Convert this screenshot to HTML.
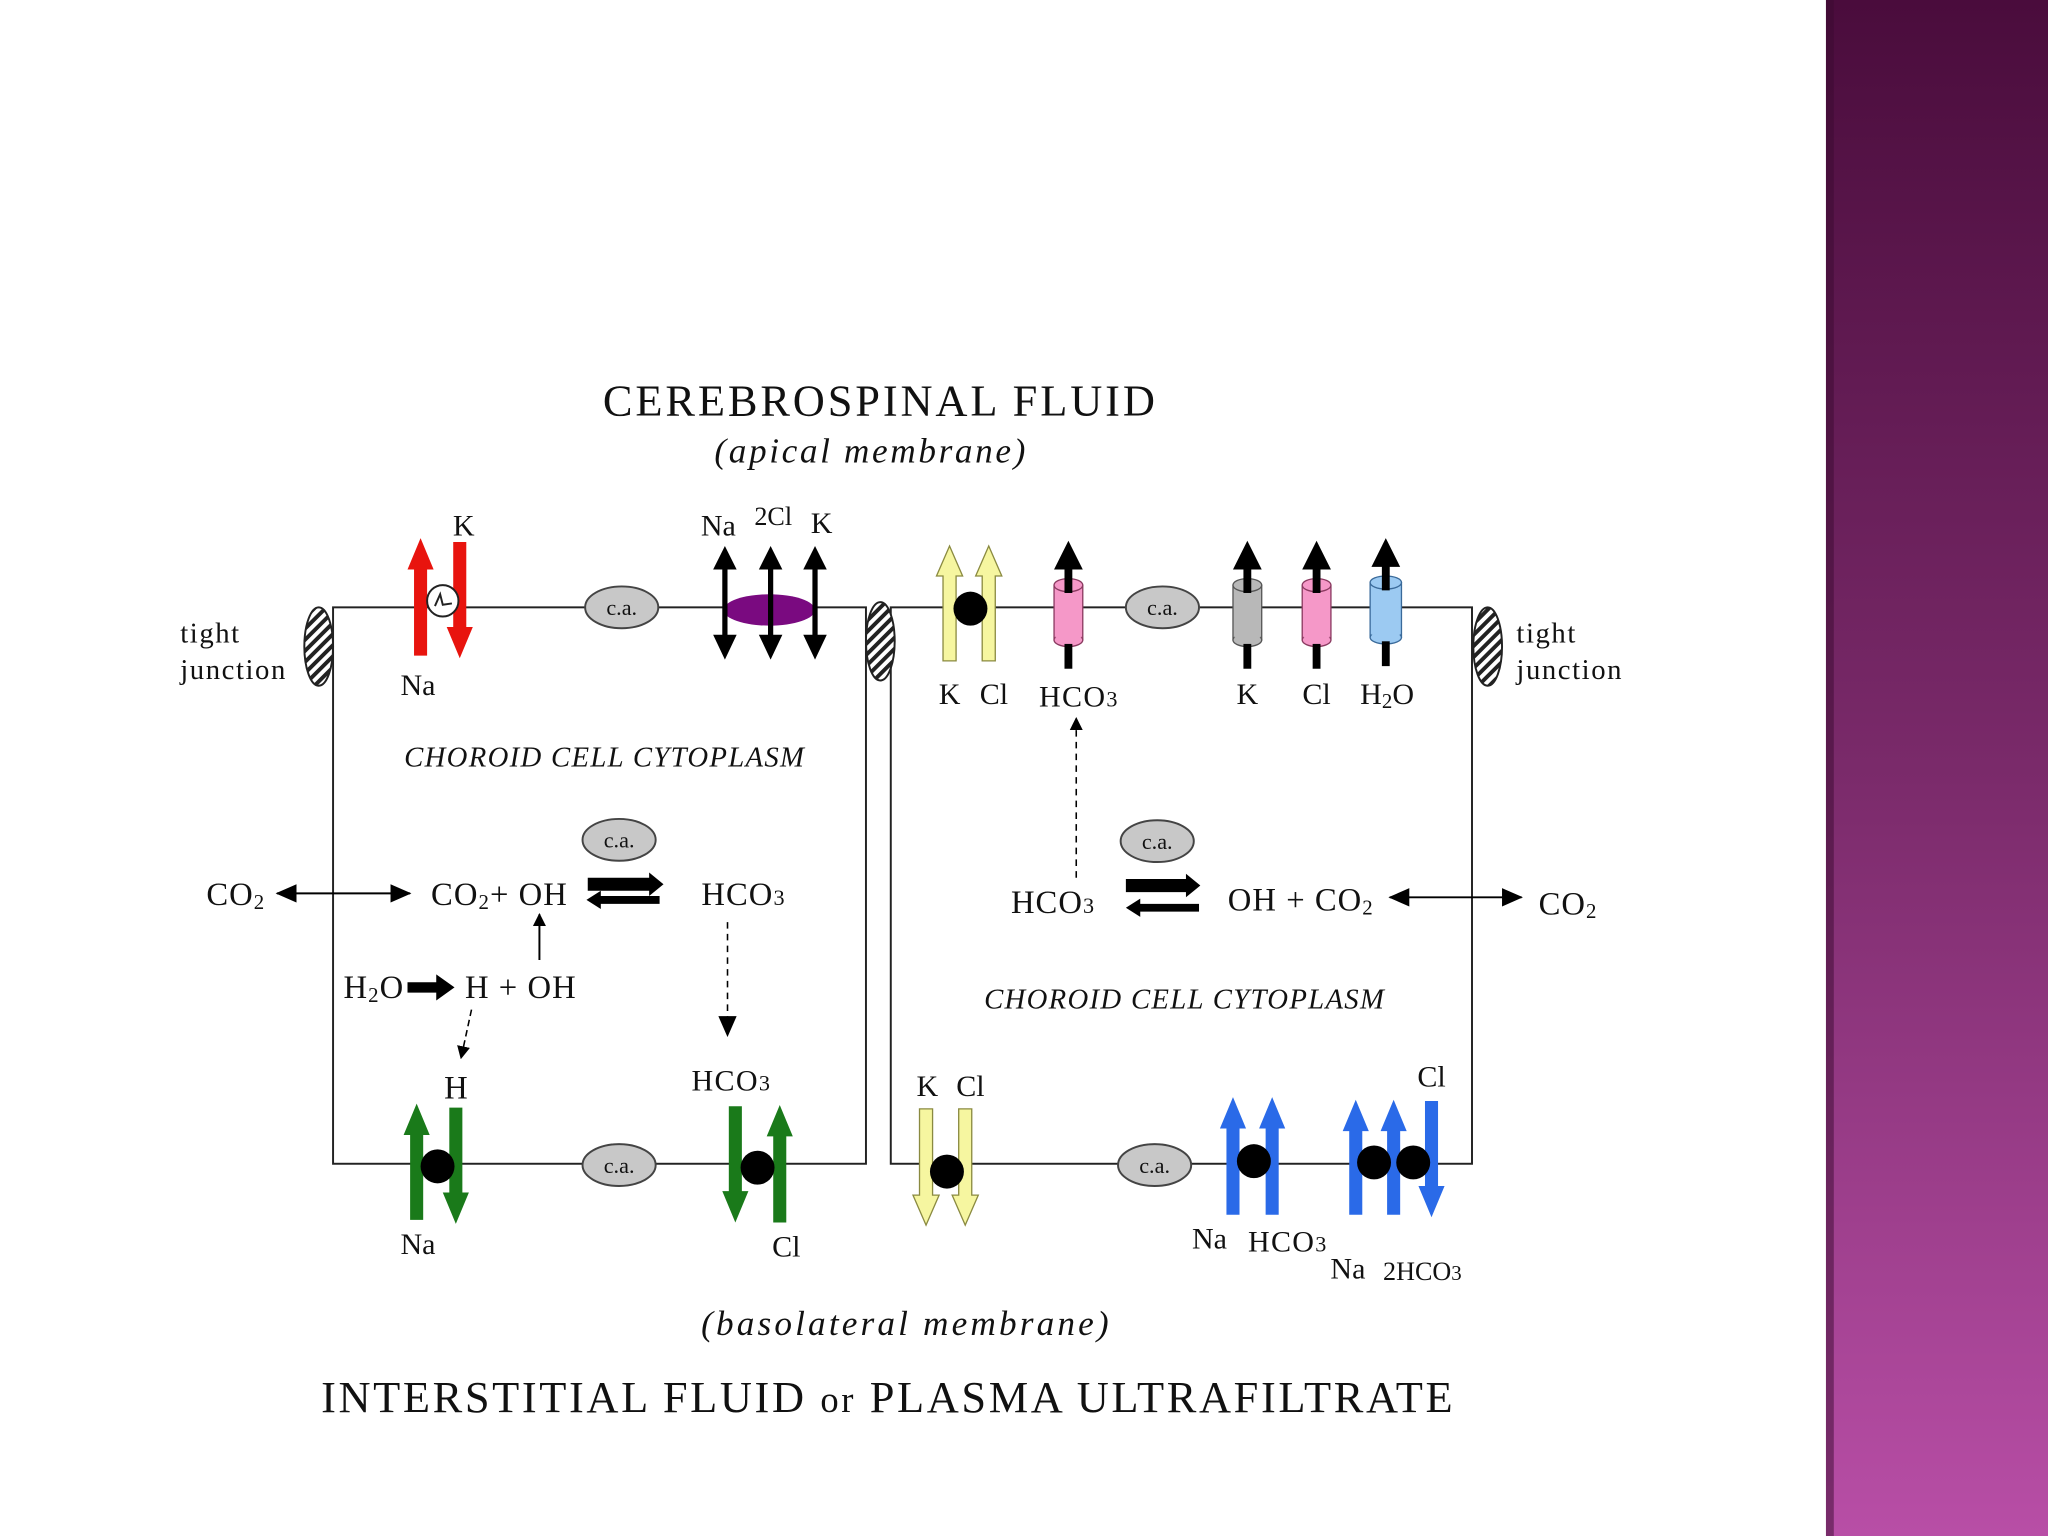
<!DOCTYPE html>
<html><head><meta charset="utf-8"><style>
html,body{margin:0;padding:0;background:#fff;}
svg{display:block}
text{font-family:"Liberation Serif",serif;fill:#111}
</style></head><body>
<svg width="2048" height="1536" viewBox="0 0 1568 1176" xmlns="http://www.w3.org/2000/svg">
<defs>
<linearGradient id="pg" x1="0" y1="0" x2="0" y2="1">
<stop offset="0" stop-color="#4a0c3c"/><stop offset="0.5" stop-color="#7a2a6a"/><stop offset="1" stop-color="#b84ea6"/>
</linearGradient>
<pattern id="hat" width="6" height="6" patternUnits="userSpaceOnUse" patternTransform="rotate(45)">
<rect width="6" height="6" fill="#fff"/><rect width="3" height="6" fill="#222"/>
</pattern>
<marker id="ah" markerWidth="10" markerHeight="10" refX="9" refY="5" orient="auto" markerUnits="userSpaceOnUse"><path d="M0,0 L10,5 L0,10 z" fill="#000"/></marker>
<marker id="ahs" markerWidth="16" markerHeight="14" refX="15" refY="7" orient="auto" markerUnits="userSpaceOnUse"><path d="M0,0 L16,7 L0,14 z" fill="#000"/></marker>
<marker id="ahsr" markerWidth="16" markerHeight="14" refX="1" refY="7" orient="auto" markerUnits="userSpaceOnUse"><path d="M16,0 L0,7 L16,14 z" fill="#000"/></marker>
</defs>
<rect x="1398" y="0" width="170" height="1176" fill="url(#pg)"/>
<rect x="1398" y="0" width="6" height="1176" fill="#3a0a30" opacity="0.5"/>

<text x="674" y="318" font-size="34" letter-spacing="2.2" text-anchor="middle">CEREBROSPINAL FLUID</text>
<text x="667" y="354" font-size="27" font-style="italic" letter-spacing="2" text-anchor="middle">(apical membrane)</text>

<g fill="none" stroke="#222" stroke-width="1.5">
<rect x="255" y="465" width="408" height="426"/>
<rect x="682" y="465" width="445" height="426"/>
</g>
<g stroke="#222" stroke-width="1.5" fill="url(#hat)">
<ellipse cx="244" cy="495" rx="11" ry="30"/>
<ellipse cx="674" cy="491" rx="11" ry="30"/>
<ellipse cx="1139" cy="495" rx="11" ry="30"/>
</g>
<g font-size="22" letter-spacing="1.2">
<text x="138" y="492">tight</text><text x="138" y="520">junction</text>
<text x="1161" y="492">tight</text><text x="1161" y="520">junction</text>
</g>

<g fill="#c8c8c8" stroke="#444" stroke-width="1.5">
<ellipse cx="476" cy="465" rx="28" ry="16"/><ellipse cx="890" cy="465" rx="28" ry="16"/>
<ellipse cx="474" cy="643" rx="28" ry="16"/><ellipse cx="886" cy="644" rx="28" ry="16"/>
<ellipse cx="474" cy="892" rx="28" ry="16"/><ellipse cx="884" cy="892" rx="28" ry="16"/>
</g>
<g font-size="17" fill="#333" text-anchor="middle">
<text x="476" y="471">c.a.</text><text x="890" y="471">c.a.</text>
<text x="474" y="649">c.a.</text><text x="886" y="650">c.a.</text>
<text x="474" y="898">c.a.</text><text x="884" y="898">c.a.</text>
</g>

<g fill="#e8140e">
<polygon points="322,412 332,436 327,436 327,502 317,502 317,436 312,436"/>
<polygon points="352,504 362,480 357,480 357,415 347,415 347,480 342,480"/>
</g>
<circle cx="339" cy="460" r="12" fill="#fff" stroke="#222" stroke-width="1.5"/>
<path d="M333,464 L337,455 L339,463 L346,462" fill="none" stroke="#222" stroke-width="1.5"/>
<text x="355" y="410" font-size="23" text-anchor="middle">K</text>
<text x="320" y="532" font-size="23" text-anchor="middle">Na</text>

<ellipse cx="589" cy="467" rx="35" ry="12" fill="#7a0a80"/>
<g fill="#000">
<g id="da"><polygon points="555,418 564,436 557,436 557,486 564,486 555,505 546,486 553,486 553,436 546,436"/></g>
<use href="#da" x="35"/><use href="#da" x="69"/>
</g>
<text x="550" y="410" font-size="23" text-anchor="middle">Na</text>
<text x="592" y="402" font-size="20" text-anchor="middle">2Cl</text>
<text x="629" y="408" font-size="23" text-anchor="middle">K</text>

<g fill="#f6f6a0" stroke="#8a8a40" stroke-width="1">
<polygon points="727,418 737,441 732,441 732,506 722,506 722,441 717,441"/>
<polygon points="757,418 767,441 762,441 762,506 752,506 752,441 747,441"/>
</g>
<circle cx="743" cy="466" r="13" fill="#000"/>
<text x="727" y="539" font-size="23" text-anchor="middle">K</text>
<text x="761" y="539" font-size="23" text-anchor="middle">Cl</text>

<g>
<rect x="807" y="448" width="22" height="42" fill="#f598c8" stroke="#8a3a60" stroke-width="1"/>
<ellipse cx="818" cy="448" rx="11" ry="5" fill="#f598c8" stroke="#8a3a60" stroke-width="1"/>
<ellipse cx="818" cy="490" rx="11" ry="5" fill="#f598c8" stroke="#8a3a60" stroke-width="1"/>
<rect x="808" y="454" width="20" height="34" fill="#f598c8"/>
<rect x="815" y="432" width="6" height="22" fill="#000"/><rect x="815" y="493" width="6" height="19" fill="#000"/>
<polygon points="818,414 829,436 807,436" fill="#000"/>
</g>
<g>
<rect x="944" y="448" width="22" height="42" fill="#b8b8b8" stroke="#555"/>
<ellipse cx="955" cy="448" rx="11" ry="5" fill="#b8b8b8" stroke="#555"/>
<ellipse cx="955" cy="490" rx="11" ry="5" fill="#b8b8b8" stroke="#555"/>
<rect x="945" y="454" width="20" height="34" fill="#b8b8b8"/>
<rect x="952" y="432" width="6" height="22" fill="#000"/><rect x="952" y="493" width="6" height="19" fill="#000"/>
<polygon points="955,414 966,436 944,436" fill="#000"/>

<rect x="997" y="448" width="22" height="42" fill="#f598c8" stroke="#8a3a60"/>
<ellipse cx="1008" cy="448" rx="11" ry="5" fill="#f598c8" stroke="#8a3a60"/>
<ellipse cx="1008" cy="490" rx="11" ry="5" fill="#f598c8" stroke="#8a3a60"/>
<rect x="998" y="454" width="20" height="34" fill="#f598c8"/>
<rect x="1005" y="432" width="6" height="22" fill="#000"/><rect x="1005" y="493" width="6" height="19" fill="#000"/>
<polygon points="1008,414 1019,436 997,436" fill="#000"/>

<rect x="1049" y="446" width="24" height="42" fill="#9ccaf2" stroke="#3a6a9a"/>
<ellipse cx="1061" cy="446" rx="12" ry="5" fill="#9ccaf2" stroke="#3a6a9a"/>
<ellipse cx="1061" cy="488" rx="12" ry="5" fill="#9ccaf2" stroke="#3a6a9a"/>
<rect x="1050" y="452" width="22" height="34" fill="#9ccaf2"/>
<rect x="1058" y="430" width="6" height="22" fill="#000"/><rect x="1058" y="491" width="6" height="19" fill="#000"/>
<polygon points="1061,412 1072,434 1050,434" fill="#000"/>
</g>
<g font-size="23" text-anchor="middle">
<text x="826" y="541" letter-spacing="1">HCO<tspan font-size="17">3</tspan></text>
<text x="955" y="539">K</text><text x="1008" y="539">Cl</text>
<text x="1062" y="539">H<tspan font-size="16" dy="3">2</tspan><tspan dy="-3">O</tspan></text>
</g>
<line x1="824" y1="672" x2="824" y2="550" stroke="#000" stroke-width="1.2" stroke-dasharray="5,4" marker-end="url(#ah)"/>

<g font-size="22" font-style="italic" letter-spacing="1">
<text x="463" y="587" text-anchor="middle">CHOROID CELL CYTOPLASM</text>
<text x="907" y="772" text-anchor="middle">CHOROID CELL CYTOPLASM</text>
</g>

<g font-size="25" letter-spacing="0.8">
<text x="158" y="693">CO<tspan font-size="16" dy="3">2</tspan></text>
<text x="330" y="693">CO<tspan font-size="16" dy="3">2</tspan><tspan dy="-3">+ OH</tspan></text>
<text x="537" y="693">HCO<tspan font-size="17">3</tspan></text>
<text x="263" y="764">H<tspan font-size="16" dy="3">2</tspan><tspan dy="-3">O</tspan></text>
<text x="356" y="764">H + OH</text>
<text x="340" y="841">H</text>
</g>
<line x1="212" y1="684" x2="314" y2="684" stroke="#000" stroke-width="1.5" marker-end="url(#ahs)" marker-start="url(#ahsr)"/>
<polygon points="450,672 497,672 497,668 508,677 497,686 497,682 450,682" fill="#000"/>
<polygon points="505,688 460,688 460,684 449,691 460,698 460,694 505,694" fill="#000" transform="translate(0,-2)"/>
<line x1="413" y1="735" x2="413" y2="700" stroke="#000" stroke-width="1.5" marker-end="url(#ah)"/>
<polygon points="312,752 334,752 334,746 348,756 334,766 334,760 312,760" fill="#000"/>
<line x1="361" y1="773" x2="353" y2="810" stroke="#000" stroke-width="1.2" stroke-dasharray="5,3" marker-end="url(#ah)"/>
<line x1="557" y1="706" x2="557" y2="793" stroke="#000" stroke-width="1.2" stroke-dasharray="5,4" marker-end="url(#ahs)"/>

<g font-size="25" letter-spacing="0.8">
<text x="774" y="699">HCO<tspan font-size="17">3</tspan></text>
<text x="940" y="697">OH + CO<tspan font-size="16" dy="3">2</tspan></text>
<text x="1178" y="700">CO<tspan font-size="16" dy="3">2</tspan></text>
</g>
<polygon points="862,676 908,676 908,672 919,681 908,690 908,686 862,686" fill="#000" transform="translate(0,-3)"/>
<polygon points="918,692 873,692 873,688 862,695 873,702 873,698 918,698" fill="#000"/>
<line x1="1064" y1="687" x2="1165" y2="687" stroke="#000" stroke-width="1.5" marker-end="url(#ahs)" marker-start="url(#ahsr)"/>

<g fill="#1a7a1a">
<polygon points="319,845 329,869 324,869 324,934 314,934 314,869 309,869"/>
<polygon points="349,937 359,913 354,913 354,848 344,848 344,913 339,913"/>
<polygon points="563,936 573,912 568,912 568,847 558,847 558,912 553,912"/>
<polygon points="597,846 607,870 602,870 602,936 592,936 592,870 587,870"/>
</g>
<circle cx="335" cy="893" r="13" fill="#000"/>
<circle cx="580" cy="894" r="13" fill="#000"/>
<g font-size="23" text-anchor="middle">
<text x="320" y="960">Na</text>
<text x="560" y="835" letter-spacing="1">HCO<tspan font-size="17">3</tspan></text>
<text x="602" y="962">Cl</text>
</g>

<g fill="#f6f6a0" stroke="#8a8a40" stroke-width="1">
<polygon points="709,938 719,915 714,915 714,849 704,849 704,915 699,915"/>
<polygon points="739,938 749,915 744,915 744,849 734,849 734,915 729,915"/>
</g>
<circle cx="725" cy="897" r="13" fill="#000"/>
<text x="710" y="839" font-size="23" text-anchor="middle">K</text>
<text x="743" y="839" font-size="23" text-anchor="middle">Cl</text>

<g fill="#2a6ae8">
<polygon points="944,840 954,864 949,864 949,930 939,930 939,864 934,864"/>
<polygon points="974,840 984,864 979,864 979,930 969,930 969,864 964,864"/>
<polygon points="1038,842 1048,866 1043,866 1043,930 1033,930 1033,866 1028,866"/>
<polygon points="1067,842 1077,866 1072,866 1072,930 1062,930 1062,866 1057,866"/>
<polygon points="1096,932 1106,908 1101,908 1101,843 1091,843 1091,908 1086,908"/>
</g>
<circle cx="960" cy="889" r="13" fill="#000"/>
<circle cx="1052" cy="890" r="13" fill="#000"/>
<circle cx="1082" cy="890" r="13" fill="#000"/>
<g font-size="23" text-anchor="middle">
<text x="1096" y="832">Cl</text>
<text x="926" y="956">Na</text>
<text x="986" y="958" letter-spacing="1">HCO<tspan font-size="17">3</tspan></text>
<text x="1032" y="979">Na</text>
<text x="1089" y="980" font-size="20">2HCO<tspan font-size="16">3</tspan></text>
</g>

<text x="694" y="1022" font-size="27" font-style="italic" letter-spacing="2.4" text-anchor="middle">(basolateral membrane)</text>
<text x="680" y="1081" font-size="34" letter-spacing="2" text-anchor="middle">INTERSTITIAL FLUID <tspan font-size="28">or</tspan> PLASMA ULTRAFILTRATE</text>
</svg>
</body></html>
